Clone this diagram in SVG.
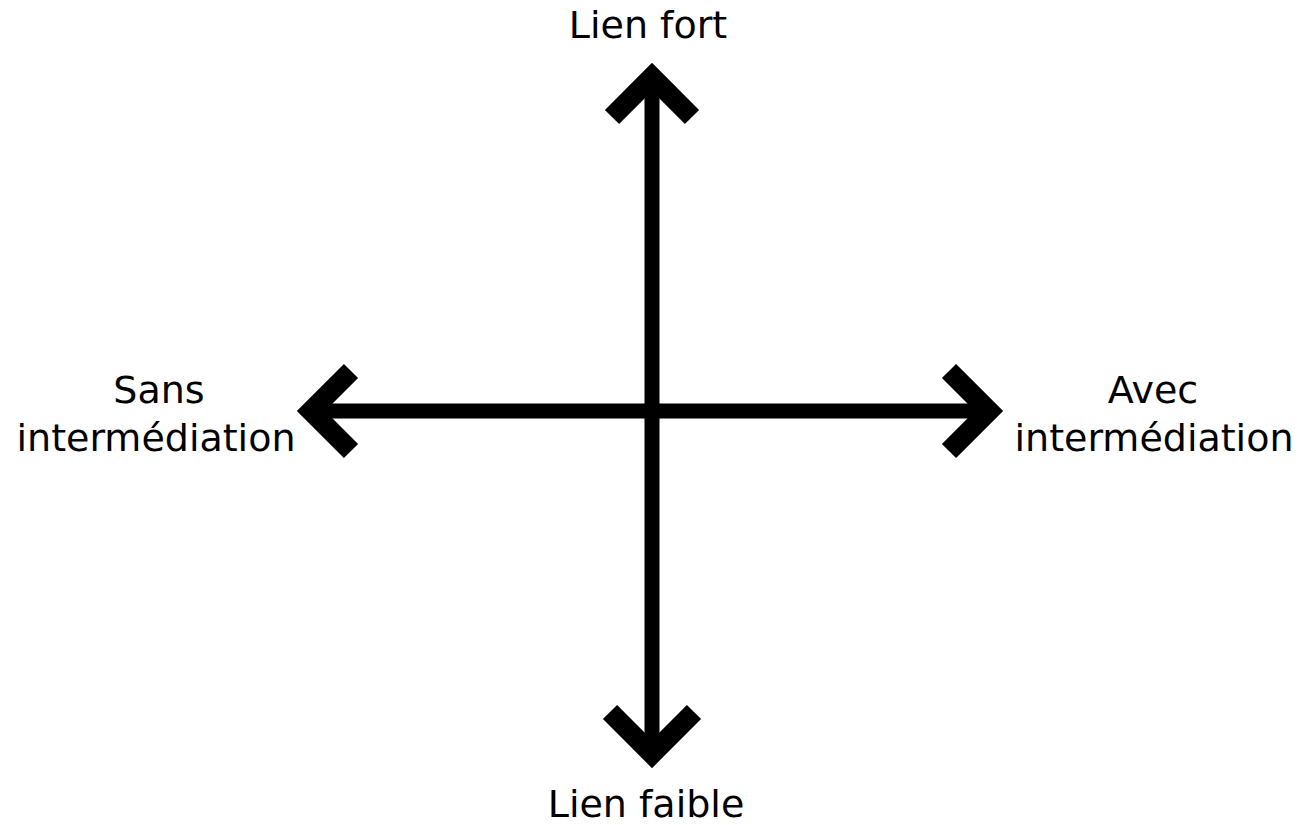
<svg xmlns="http://www.w3.org/2000/svg" width="1303" height="825" viewBox="0 0 1303 825">
<style>
.lbl{font-family:"DejaVu Sans",sans-serif;font-size:38px;fill:#000;text-anchor:middle}
.axis{stroke:#000;stroke-width:15;fill:none}
.head{stroke:#000;stroke-width:20;fill:none;stroke-linejoin:miter;stroke-miterlimit:10;stroke-linecap:butt}
</style>
<rect width="1303" height="825" fill="#fff"/>
<g id="connectors">
<line class="axis" x1="652" y1="76" x2="652" y2="754"/>
<line class="axis" x1="311" y1="411" x2="989" y2="411"/>
<polyline class="head" points="612,117 652,77 692,117"/>
<polyline class="head" points="610,712 652,754 694,712"/>
<polyline class="head" points="351,371 311,411 351,451"/>
<polyline class="head" points="949,371 989,411 949,451"/>
</g>
<g id="lien-fort"><text class="lbl" x="648" y="38">Lien fort</text></g>
<g id="lien-faible"><text class="lbl" x="646" y="817">Lien faible</text></g>
<g id="sans-intermediation">
<text class="lbl" x="159" y="403">Sans</text>
<text class="lbl" x="156" y="451">intermédiation</text>
</g>
<g id="avec-intermediation">
<text class="lbl" x="1153" y="403">Avec</text>
<text class="lbl" x="1154" y="451">intermédiation</text>
</g>
</svg>
